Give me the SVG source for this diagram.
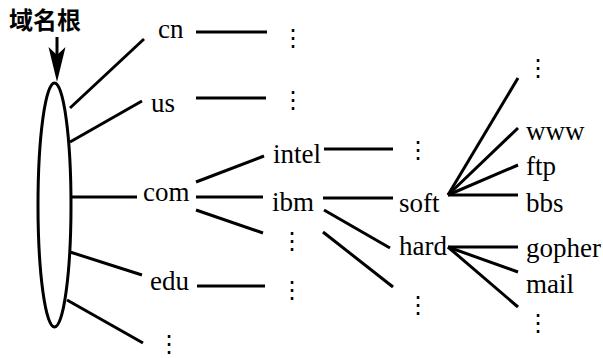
<svg xmlns="http://www.w3.org/2000/svg" width="603" height="358" viewBox="0 0 603 358">
<style>
.lbl{font-family:"Liberation Serif","Times New Roman",serif;font-size:27px;fill:#000}
.dots{font-family:"DejaVu Sans",sans-serif;font-size:24px;fill:#000;text-anchor:middle}
.title{font-family:"Noto Sans CJK SC","Noto Sans",sans-serif;font-size:24px;font-weight:bold;fill:#000}
.ln{stroke:#000;stroke-width:3;fill:none;stroke-linecap:butt}
</style>
<rect width="603" height="358" fill="#fff"/>
<g id="root">
<text class="title" x="9" y="29">域名根</text>
<line class="ln" x1="57" y1="37" x2="57" y2="60"/>
<polygon points="48.5,47 57,55 65.5,47 57,82" fill="#000"/>
<ellipse cx="54.5" cy="205" rx="16.5" ry="122" fill="none" stroke="#000" stroke-width="3"/>
</g>
<g id="connectors">
<line class="ln" x1="70" y1="108" x2="144" y2="39"/>
<line class="ln" x1="70" y1="142" x2="142" y2="101"/>
<line class="ln" x1="72" y1="197" x2="137" y2="197"/>
<line class="ln" x1="70" y1="252" x2="142" y2="275"/>
<line class="ln" x1="67" y1="300" x2="143" y2="343"/>
<line class="ln" x1="196" y1="32" x2="267" y2="32"/>
<line class="ln" x1="196" y1="98" x2="266" y2="98"/>
<line class="ln" x1="196" y1="182" x2="264" y2="156"/>
<line class="ln" x1="196" y1="197" x2="263" y2="197"/>
<line class="ln" x1="196" y1="210" x2="263" y2="233"/>
<line class="ln" x1="197" y1="286" x2="265" y2="286"/>
<line class="ln" x1="324" y1="149" x2="393" y2="149"/>
<line class="ln" x1="323" y1="198" x2="393" y2="198"/>
<line class="ln" x1="324" y1="210" x2="390" y2="248"/>
<line class="ln" x1="323" y1="232" x2="393" y2="287"/>
<line class="ln" x1="448" y1="195" x2="518" y2="78"/>
<line class="ln" x1="448" y1="195" x2="518" y2="128"/>
<line class="ln" x1="448" y1="195" x2="518" y2="165"/>
<line class="ln" x1="448" y1="195" x2="518" y2="195"/>
<line class="ln" x1="448" y1="247" x2="518" y2="247"/>
<line class="ln" x1="448" y1="247" x2="518" y2="272"/>
<line class="ln" x1="448" y1="247" x2="518" y2="307"/>
</g>
<g id="cn"><text class="lbl" x="158" y="38">cn</text></g>
<g id="us"><text class="lbl" x="151" y="112">us</text></g>
<g id="com"><text class="lbl" x="143" y="201">com</text></g>
<g id="edu"><text class="lbl" x="150" y="290">edu</text></g>
<g id="intel"><text class="lbl" x="273" y="163">intel</text></g>
<g id="ibm"><text class="lbl" x="272" y="211">ibm</text></g>
<g id="soft"><text class="lbl" x="399" y="212">soft</text></g>
<g id="hard"><text class="lbl" x="399" y="255">hard</text></g>
<g id="www"><text class="lbl" x="526" y="140">www</text></g>
<g id="ftp"><text class="lbl" x="526" y="175">ftp</text></g>
<g id="bbs"><text class="lbl" x="526" y="212">bbs</text></g>
<g id="gopher"><text class="lbl" x="526" y="257">gopher</text></g>
<g id="mail"><text class="lbl" x="526" y="293">mail</text></g>
<g id="more">
<text class="dots" x="293" y="46">⋮</text>
<text class="dots" x="293" y="108">⋮</text>
<text class="dots" x="292" y="249">⋮</text>
<text class="dots" x="292" y="298">⋮</text>
<text class="dots" x="169" y="352">⋮</text>
<text class="dots" x="418" y="158">⋮</text>
<text class="dots" x="418" y="313">⋮</text>
<text class="dots" x="538" y="76">⋮</text>
<text class="dots" x="538" y="331">⋮</text>
</g>
</svg>
